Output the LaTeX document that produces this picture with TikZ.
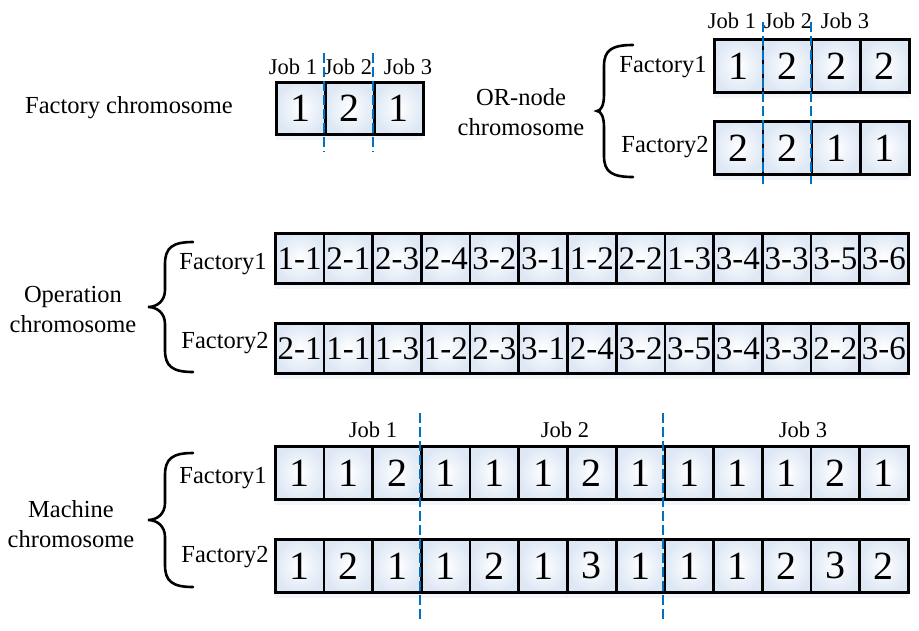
\documentclass[tikz,border=0pt]{standalone}
\usepackage{fontspec}
\setmainfont{Liberation Serif}
\usetikzlibrary{shadows}
\definecolor{jobblue}{RGB}{0,112,192}
\definecolor{cellblue}{RGB}{222,232,245}
\begin{document}
\begin{tikzpicture}[x=1pt,y=-1pt,
  cell/.style={draw=black, line width=2.7pt, inner color=white, outer color=cellblue,
    minimum height=52pt, minimum width=48.7pt, inner sep=0pt, anchor=north west,
    font=\fontsize{40}{40}\selectfont,
    drop shadow={shadow xshift=0pt, shadow yshift=-6pt, opacity=0.4, fill=cellblue, draw=none}},
  opcell/.style={cell, minimum height=50pt, font=\fontsize{33}{33}\selectfont},
  lbl/.style={font=\fontsize{24.5}{30}\selectfont, align=center, inner sep=0pt},
  joblbl/.style={font=\fontsize{22.5}{24}\selectfont, inner sep=0pt},
  sep/.style={draw=jobblue, line width=2.6pt, dash pattern=on 10pt off 4pt},
  bracepath/.style={draw=black, line width=2.6pt, line cap=round}
]
\useasboundingbox (0,0) rectangle (919,630);

% ---------- Factory chromosome ----------
\node[lbl] (fclabel) at (129,108) {Factory chromosome};
\foreach \v [count=\i] in {1,2,1}
  \node[cell, minimum width=49pt] (fc-\i) at ({275+49*(\i-1)},81) {\v};
\node[joblbl] (fcj1) at (293,67) {Job 1};
\node[joblbl] (fcj2) at (348,67) {Job 2};
\node[joblbl] (fcj3) at (408,67) {Job 3};
\coordinate (fcs1t) at (324,53); \coordinate (fcs1b) at (324,152);
\coordinate (fcs2t) at (373,53); \coordinate (fcs2b) at (373,152);
\draw[sep] (fcs1t) -- (fcs1b);
\draw[sep] (fcs2t) -- (fcs2b);

% ---------- OR-node chromosome ----------
\node[lbl] (orlabel) at (521,112) {OR-node\\chromosome};
\draw[bracepath] (633,45) .. controls (612,45) and (604,50) .. (604,66) -- (604,95)
  .. controls (604,105) and (601,111) .. (597,111)
  .. controls (601,111) and (604,117) .. (604,127) -- (604,156)
  .. controls (604,172) and (612,177) .. (633,177);
\node[lbl] (orf1) at (663,67) {Factory1};
\node[lbl] (orf2) at (665,147) {Factory2};
\foreach \v [count=\i] in {1,2,2,2}
  \node[cell, minimum width=48.75pt, minimum height=53pt] (or1-\i) at ({713+48.75*(\i-1)},38) {\v};
\foreach \v [count=\i] in {2,2,1,1}
  \node[cell, minimum width=48.75pt, minimum height=53pt] (or2-\i) at ({713+48.75*(\i-1)},120) {\v};
\node[joblbl] (orj1) at (732,21) {Job 1};
\node[joblbl] (orj2) at (788,21) {Job 2};
\node[joblbl] (orj3) at (845,21) {Job 3};
\coordinate (ors1t) at (763,22); \coordinate (ors1b) at (763,184);
\coordinate (ors2t) at (811,22); \coordinate (ors2b) at (811,184);
\draw[sep] (ors1t) -- (ors1b);
\draw[sep] (ors2t) -- (ors2b);

% ---------- Operation chromosome ----------
\node[lbl] (oplabel) at (73,310) {Operation\\chromosome};
\draw[bracepath] (193,242) .. controls (172,242) and (165,248) .. (165,264) -- (165,290)
  .. controls (165,301) and (157,307) .. (148,307)
  .. controls (157,307) and (165,313) .. (165,324) -- (165,350)
  .. controls (165,366) and (172,372) .. (193,372);
\node[lbl] (opf1) at (223,264) {Factory1};
\node[lbl] (opf2) at (225,343) {Factory2};
\foreach \v [count=\i] in {1-1,2-1,2-3,2-4,3-2,3-1,1-2,2-2,1-3,3-4,3-3,3-5,3-6}
  \node[opcell] (op1-\i) at ({274+48.69*(\i-1)},232) {\v};
\foreach \v [count=\i] in {2-1,1-1,1-3,1-2,2-3,3-1,2-4,3-2,3-5,3-4,3-3,2-2,3-6}
  \node[opcell] (op2-\i) at ({274+48.69*(\i-1)},322) {\v};

% ---------- Machine chromosome ----------
\node[lbl] (mclabel) at (71,524) {Machine\\chromosome};
\draw[bracepath] (193,453) .. controls (172,453) and (165,459) .. (165,475) -- (165,503)
  .. controls (165,514) and (157,520) .. (148,520)
  .. controls (157,520) and (165,526) .. (165,537) -- (165,565)
  .. controls (165,581) and (172,587) .. (193,587);
\node[lbl] (mcf1) at (223,478) {Factory1};
\node[lbl] (mcf2) at (225,557) {Factory2};
\foreach \v [count=\i] in {1,1,2,1,1,1,2,1,1,1,1,2,1}
  \node[cell, minimum height=53pt] (mc1-\i) at ({274+48.69*(\i-1)},445) {\v};
\foreach \v [count=\i] in {1,2,1,1,2,1,3,1,1,1,2,3,2}
  \node[cell, minimum height=53pt] (mc2-\i) at ({274+48.69*(\i-1)},538) {\v};
\node[joblbl] (mcj1) at (373,430) {Job 1};
\node[joblbl] (mcj2) at (565,430) {Job 2};
\node[joblbl] (mcj3) at (803,430) {Job 3};
\coordinate (mcs1t) at (420,413); \coordinate (mcs1b) at (420,620);
\coordinate (mcs2t) at (663,413); \coordinate (mcs2b) at (663,620);
\draw[sep] (mcs1t) -- (mcs1b);
\draw[sep] (mcs2t) -- (mcs2b);
\end{tikzpicture}
\end{document}
